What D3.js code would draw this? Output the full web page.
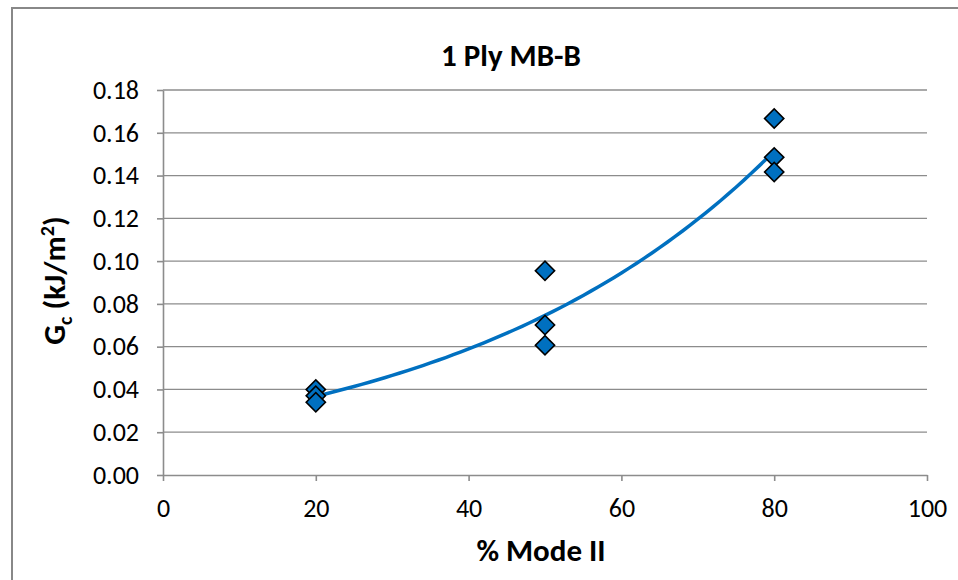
<!DOCTYPE html>
<html>
<head>
<meta charset="utf-8">
<script src="https://cdn.jsdelivr.net/npm/d3@7"></script>
<style>
    body { margin: 0; background: #fff; }
    text { font-family: Carlito, Lato, "Liberation Sans", sans-serif; fill: #000; }
</style>
</head>
<body>
<div id="chart"></div>
<script>
// measured points, % mode II vs Gc (kJ/m2)
const modeII = [20, 20, 20, 50, 50, 50, 80, 80, 80];
const gcValues = [0.040, 0.037, 0.034, 0.0955, 0.0701, 0.0607, 0.1667, 0.1485, 0.1417];
const xTicks = [0, 20, 40, 60, 80, 100];
const yTicks = [0, 0.02, 0.04, 0.06, 0.08, 0.10, 0.12, 0.14, 0.16, 0.18];

const w = 958, h = 580;
const margin = {top: 90, right: 31, bottom: 105, left: 163};
const width = w - margin.left - margin.right,
      height = h - margin.top - margin.bottom;

const gridColor = "#8c8c8c",
      markColor = "#0070c0";

let svg = d3.select("#chart")
    .append("svg")
    .attr("width", w)
    .attr("height", h);

// chart area border
svg.append("rect")
    .attr("x", 12)
    .attr("y", 8)
    .attr("width", w)
    .attr("height", h)
    .attr("fill", "none")
    .attr("stroke", "#888")
    .attr("stroke-width", 2);

let g = svg.append("g")
    .attr("transform", "translate(" + margin.left + "," + margin.top + ")");

let x = d3.scaleLinear().domain([0, 100]).range([0, width]);
let y = d3.scaleLinear().domain([0, 0.18]).range([height, 0]);

// horizontal gridlines
g.append("g")
    .selectAll("line")
    .data(yTicks.slice(1))
    .join("line")
    .attr("x1", 0)
    .attr("x2", width)
    .attr("y1", d => y(d))
    .attr("y2", d => y(d))
    .attr("stroke", gridColor)
    .attr("stroke-width", 1.3);

let yAxis = g.append("g")
    .call(d3.axisLeft(y)
        .tickValues(yTicks)
        .tickFormat(d3.format(".2f"))
        .tickSizeInner(6)
        .tickSizeOuter(0)
        .tickPadding(18));

let xAxis = g.append("g")
    .attr("transform", "translate(0," + height + ")")
    .call(d3.axisBottom(x)
        .tickValues(xTicks)
        .tickSizeInner(6)
        .tickSizeOuter(0)
        .tickPadding(18));

[yAxis, xAxis].forEach(function (a) {
    a.select(".domain").attr("stroke", gridColor).attr("stroke-width", 1.6);
    a.selectAll(".tick line").attr("stroke", gridColor).attr("stroke-width", 1.6);
    a.selectAll("text").style("font-size", "26px").attr("fill", "#000");
});

// exponential trendline fitted to the points (least squares on ln y)
let mx = d3.mean(modeII),
    ml = d3.mean(gcValues, d => Math.log(d)),
    sxy = d3.sum(modeII, (d, i) => (d - mx) * (Math.log(gcValues[i]) - ml)),
    sxx = d3.sum(modeII, d => (d - mx) * (d - mx)),
    b = sxy / sxx,
    a = Math.exp(ml - b * mx);

let xExtent = d3.extent(modeII);
let trendX = d3.range(xExtent[0], xExtent[1] + 0.5, 1);

let line = d3.line()
    .x(d => x(d))
    .y(d => y(a * Math.exp(b * d)))
    .curve(d3.curveMonotoneX);

g.append("path")
    .datum(trendX)
    .attr("fill", "none")
    .attr("stroke", markColor)
    .attr("stroke-width", 3.5)
    .attr("stroke-linecap", "round")
    .attr("d", line);

// diamonds
let diamond = d3.symbol(d3.symbolSquare, 185);
g.append("g")
    .selectAll("path")
    .data(modeII.map((d, i) => [d, gcValues[i]]))
    .join("path")
    .attr("transform", d => "translate(" + x(d[0]) + "," + y(d[1]) + ") rotate(45)")
    .attr("d", diamond)
    .attr("fill", markColor)
    .attr("stroke", "#000")
    .attr("stroke-width", 1.6);

// title
svg.append("text")
    .attr("x", 511)
    .attr("y", 66)
    .attr("text-anchor", "middle")
    .style("font-size", "31px")
    .style("font-weight", "bold")
    .text("1 Ply MB-B");

// x axis title
svg.append("text")
    .attr("x", margin.left + width / 2 - 4)
    .attr("y", 561)
    .attr("text-anchor", "middle")
    .style("font-size", "31px")
    .style("font-weight", "bold")
    .text("% Mode II");

// y axis title
let yTitle = svg.append("text")
    .attr("transform", "translate(65," + (margin.top + height / 2 - 2) + ") rotate(-90)")
    .attr("text-anchor", "middle")
    .style("font-size", "31px")
    .style("font-weight", "bold");
yTitle.append("tspan").text("G");
yTitle.append("tspan").attr("dy", 7).style("font-size", "20px").text("c");
yTitle.append("tspan").attr("dy", -7).text(" (kJ/m");
yTitle.append("tspan").attr("dy", -11).style("font-size", "20px").text("2");
yTitle.append("tspan").attr("dy", 11).text(")");
</script>
</body>
</html>
